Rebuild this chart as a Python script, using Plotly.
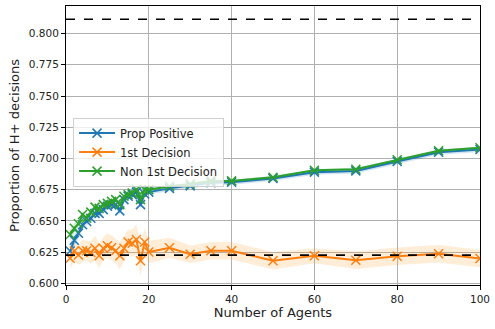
import plotly.graph_objects as go

# Number of agents on the x axis
agents = list(range(1, 21)) + [25, 30, 35, 40, 50, 60, 70, 80, 90, 100]

# Mean proportion of H+ decisions per series
prop_positive = [0.6258, 0.6345, 0.6400, 0.6468, 0.6495, 0.6520, 0.6560, 0.6560, 0.6590, 0.6617,
                 0.6630, 0.6630, 0.6580, 0.6670, 0.6697, 0.6710, 0.6730, 0.6630, 0.6715, 0.6730,
                 0.6760, 0.6780, 0.6805, 0.6810, 0.6840, 0.6890, 0.6900, 0.6975, 0.7050, 0.7072]
first_decision = [0.6200, 0.6258, 0.6226, 0.6260, 0.6260, 0.6247, 0.6280, 0.6220, 0.6280, 0.6300,
                  0.6285, 0.6260, 0.6220, 0.6280, 0.6330, 0.6320, 0.6350, 0.6180, 0.6330, 0.6250,
                  0.6285, 0.6233, 0.6260, 0.6260, 0.6180, 0.6220, 0.6185, 0.6216, 0.6237, 0.6198]
non_first = [0.6390, 0.6440, 0.6476, 0.6550, 0.6520, 0.6570, 0.6610, 0.6600, 0.6630, 0.6640,
             0.6656, 0.6670, 0.6630, 0.6697, 0.6710, 0.6723, 0.6750, 0.6670, 0.6750, 0.6750,
             0.6777, 0.6795, 0.6820, 0.6820, 0.6849, 0.6905, 0.6914, 0.6990, 0.7062, 0.7085]

# Spread around each mean (half-width of shaded band)
prop_positive_err = [0.006, 0.005, 0.004, 0.004, 0.003, 0.003, 0.003, 0.003, 0.003, 0.003,
                     0.003, 0.003, 0.003, 0.003, 0.003, 0.003, 0.003, 0.003, 0.003, 0.002,
                     0.002, 0.002, 0.002, 0.002, 0.002, 0.002, 0.002, 0.002, 0.002, 0.002]
first_decision_err = [0.009, 0.008, 0.008, 0.009, 0.008, 0.009, 0.010, 0.010, 0.009, 0.010,
                      0.010, 0.010, 0.011, 0.010, 0.010, 0.011, 0.012, 0.012, 0.011, 0.009,
                      0.008, 0.007, 0.007, 0.007, 0.007, 0.006, 0.007, 0.007, 0.007, 0.007]
non_first_err = [0.004, 0.004, 0.003, 0.003, 0.003, 0.002, 0.002, 0.002, 0.002, 0.002,
                 0.002, 0.002, 0.002, 0.002, 0.002, 0.002, 0.002, 0.002, 0.002, 0.002,
                 0.001, 0.001, 0.001, 0.001, 0.001, 0.001, 0.001, 0.001, 0.001, 0.001]

# Reference levels drawn as dashed horizontal lines
upper_reference = 0.8115
lower_reference = 0.6225

series = [
    ("Prop Positive", prop_positive, prop_positive_err, "#1f77b4", "rgba(31,119,180,0.2)"),
    ("1st Decision", first_decision, first_decision_err, "#ff7f0e", "rgba(255,165,60,0.2)"),
    ("Non 1st Decision", non_first, non_first_err, "#2ca02c", "rgba(44,160,44,0.2)"),
]

fig = go.Figure()

for name, mean, err, color, band in series:
    upper = [m + e for m, e in zip(mean, err)]
    lower = [m - e for m, e in zip(mean, err)]
    fig.add_trace(go.Scatter(
        x=agents + agents[::-1], y=upper + lower[::-1],
        fill="toself", fillcolor=band, line=dict(width=0),
        mode="lines", hoverinfo="skip", showlegend=False,
    ))

for name, mean, err, color, band in series:
    fig.add_trace(go.Scatter(
        x=agents, y=mean, name=name, mode="lines+markers",
        line=dict(color=color, width=2),
        marker=dict(symbol="x-thin", size=9, line=dict(color=color, width=1.5)),
    ))

for level in (upper_reference, lower_reference):
    fig.add_trace(go.Scatter(
        x=[0, 100], y=[level, level], mode="lines",
        line=dict(color="black", width=1.6, dash="dash"),
        hoverinfo="skip", showlegend=False,
    ))

axis_style = dict(
    showline=True, linecolor="black", linewidth=1, mirror=True,
    showgrid=True, gridcolor="#b0b0b0", gridwidth=0.8,
    ticks="outside", ticklen=4, tickcolor="black",
    zeroline=False, tickfont=dict(size=10.5, color="#222"),
)

fig.update_layout(
    width=495, height=329,
    margin=dict(l=66, r=12, t=5, b=44),
    paper_bgcolor="white", plot_bgcolor="white",
    font=dict(family="DejaVu Sans", size=10.5, color="#222"),
    xaxis=dict(range=[0, 100], tickvals=[0, 20, 40, 60, 80, 100],
               title=dict(text="Number of Agents", standoff=4), **axis_style),
    yaxis=dict(range=[0.5986, 0.8221], tickvals=[0.6 + 0.025 * i for i in range(9)],
               tickformat=".3f",
               title=dict(text="Proportion of H+ decisions", standoff=6), **axis_style),
    legend=dict(x=0.017, y=0.6, xanchor="left", yanchor="top",
                bgcolor="rgba(255,255,255,0.8)", bordercolor="#d0d0d0", borderwidth=1,
                font=dict(size=11.5), tracegroupgap=0, itemwidth=36),
)

fig.write_html("out.html")
